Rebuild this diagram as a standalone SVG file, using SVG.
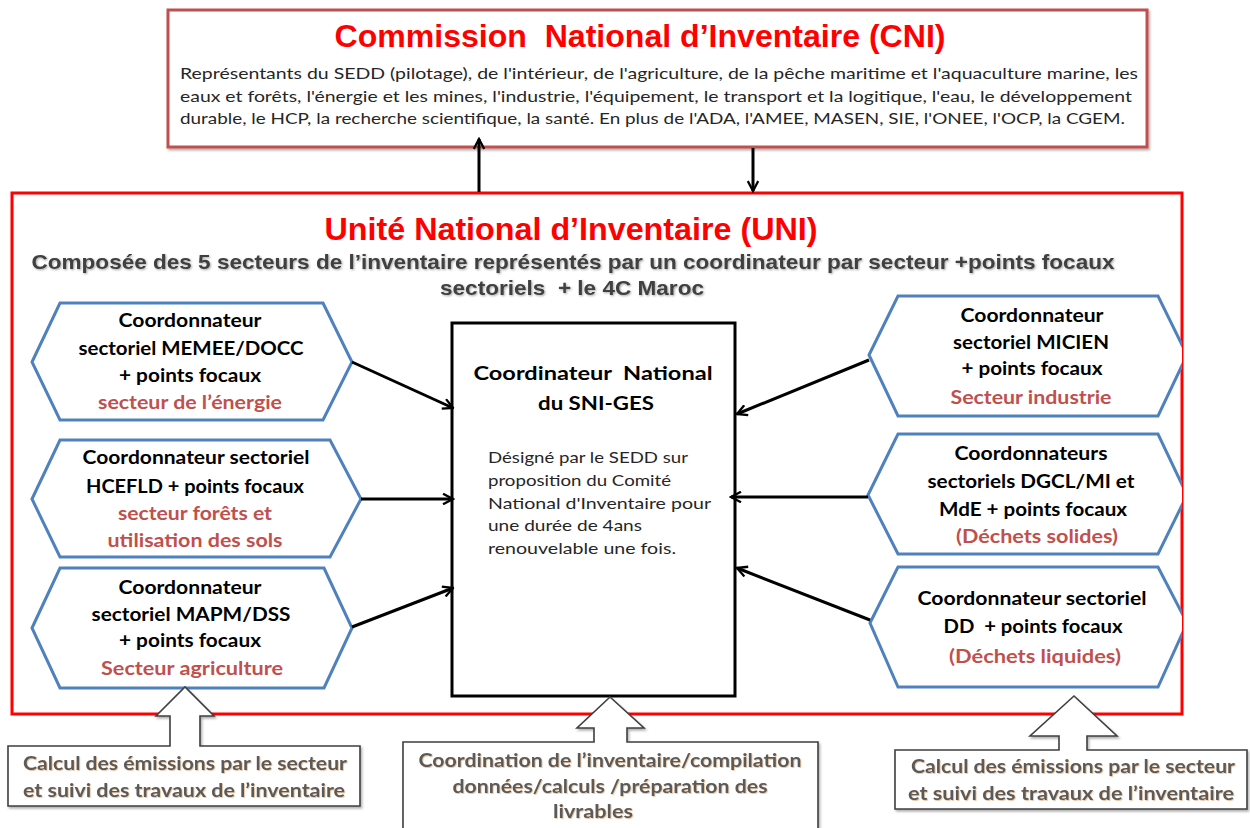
<svg xmlns="http://www.w3.org/2000/svg" width="1250" height="828" viewBox="0 0 1250 828">
  <defs>
    <style>
      text { white-space: pre; }
      .hex { fill: #ffffff; stroke: #4f81bd; stroke-width: 3; }
      .conn { fill: none; stroke: #000000; stroke-width: 3; marker-end: url(#arr); }
      .callout { fill: #ffffff; stroke: #3f3f3f; stroke-width: 1.6; filter: url(#shadow); }
      .ht { font-family: Lato, "Noto Sans", sans-serif; font-weight: 700; font-size: 18px; fill: #000000; text-anchor: middle; }
      .hs { font-family: Lato, "Noto Sans", sans-serif; font-weight: 700; font-size: 18px; fill: #c0504d; text-anchor: middle; }
      .body { font-family: Lato, "Noto Sans", sans-serif; font-size: 16px; fill: #262626; }
      .ct { font-family: Lato, "Noto Sans", sans-serif; font-weight: 700; font-size: 18px; fill: #5a5a5a; text-anchor: middle; filter: url(#glow); }
      .title { font-family: "Liberation Sans", Arial, sans-serif; font-weight: 700; fill: #ff0000; text-anchor: middle; }
      .sub { font-family: "Liberation Sans", Arial, sans-serif; font-weight: 700; font-size: 21px; fill: #404040; text-anchor: middle; filter: url(#tshadow); }
    </style>
    <marker id="arr" viewBox="0 0 12 12" refX="10.5" refY="6" markerWidth="4.2" markerHeight="4.2" orient="auto" markerUnits="strokeWidth">
      <path d="M1,1 L10.5,6 L1,11" fill="none" stroke="#000000" stroke-width="2.2" stroke-linejoin="miter"/>
    </marker>
    <filter id="shadow" x="-5%" y="-5%" width="115%" height="120%">
      <feDropShadow dx="1.5" dy="2" stdDeviation="1.2" flood-color="#000000" flood-opacity="0.3"/>
    </filter>
    <filter id="glow" x="-5%" y="-20%" width="110%" height="140%">
      <feDropShadow dx="0.8" dy="0.8" stdDeviation="0.6" flood-color="#d9a066" flood-opacity="0.7"/>
    </filter>
    <filter id="tshadow" x="-5%" y="-20%" width="110%" height="140%">
      <feDropShadow dx="1" dy="1" stdDeviation="0.8" flood-color="#000000" flood-opacity="0.35"/>
    </filter>
    <clipPath id="uniClip">
      <rect x="0" y="0" width="1182" height="828"/>
    </clipPath>
  </defs>

  <rect width="1250" height="828" fill="#ffffff"/>

  <!-- Commission (top box) -->
  <g id="cni">
    <rect x="168" y="10" width="979" height="137" fill="#ffffff" stroke="#c0504d" stroke-width="3" filter="url(#shadow)"/>
    <text class="title" x="640" y="47" font-size="31" textLength="611" lengthAdjust="spacingAndGlyphs">Commission  National d’Inventaire (CNI)</text>
    <text class="body" x="180" y="79" textLength="958" lengthAdjust="spacingAndGlyphs">Représentants du SEDD (pilotage), de l'intérieur, de l'agriculture, de la pêche maritime et l'aquaculture marine, les</text>
    <text class="body" x="180" y="102" textLength="952" lengthAdjust="spacingAndGlyphs">eaux et forêts, l'énergie et les mines, l'industrie, l'équipement, le transport et la logitique, l'eau, le développement</text>
    <text class="body" x="180" y="124" textLength="945" lengthAdjust="spacingAndGlyphs">durable, le HCP, la recherche scientifique, la santé. En plus de l'ADA, l'AMEE, MASEN, SIE, l'ONEE, l'OCP, la CGEM.</text>
  </g>

  <!-- Inventory unit (large frame) -->
  <g id="uni">
    <rect x="12" y="193" width="1170" height="521" fill="none" stroke="#ff0000" stroke-width="3"/>
    <text class="title" x="571" y="240" font-size="32" textLength="493" lengthAdjust="spacingAndGlyphs">Unité National d’Inventaire (UNI)</text>
    <text class="sub" x="573" y="269" textLength="1083" lengthAdjust="spacingAndGlyphs">Composée des 5 secteurs de l’inventaire représentés par un coordinateur par secteur +points focaux</text>
    <text class="sub" x="572" y="295" textLength="264" lengthAdjust="spacingAndGlyphs">sectoriels  + le 4C Maroc</text>
  </g>

  <!-- National coordinator -->
  <g id="coordinateur-national">
    <rect x="452" y="323" width="283" height="373" fill="#ffffff" stroke="#000000" stroke-width="3"/>
    <text class="ht" x="593" y="380" font-size="20" textLength="239" lengthAdjust="spacingAndGlyphs">Coordinateur  National</text>
    <text class="ht" x="596" y="410" font-size="20" textLength="116" lengthAdjust="spacingAndGlyphs">du SNI-GES</text>
    <text class="body" x="488" y="463" textLength="200" lengthAdjust="spacingAndGlyphs">Désigné par le SEDD sur</text>
    <text class="body" x="488" y="486" textLength="183" lengthAdjust="spacingAndGlyphs">proposition du Comité</text>
    <text class="body" x="488" y="509" textLength="223" lengthAdjust="spacingAndGlyphs">National d'Inventaire pour</text>
    <text class="body" x="488" y="531" textLength="154" lengthAdjust="spacingAndGlyphs">une durée de 4ans</text>
    <text class="body" x="488" y="554" textLength="188" lengthAdjust="spacingAndGlyphs">renouvelable une fois.</text>
  </g>

  <!-- Sector coordinators, left column -->
  <g id="energie">
    <polygon class="hex" points="32,362 60,303 323,303 352,362 323,420 60,420"/>
    <text class="ht" x="190" y="327" textLength="143" lengthAdjust="spacingAndGlyphs">Coordonnateur</text>
    <text class="ht" x="191" y="355" textLength="225" lengthAdjust="spacingAndGlyphs">sectoriel MEMEE/DOCC</text>
    <text class="ht" x="190" y="382" textLength="142" lengthAdjust="spacingAndGlyphs">+ points focaux</text>
    <text class="hs" x="190" y="409" textLength="184" lengthAdjust="spacingAndGlyphs">secteur de l’énergie</text>
  </g>
  <g id="forets">
    <polygon class="hex" points="32,499 60,440 330,440 361,499 330,557 60,557"/>
    <text class="ht" x="196" y="464" textLength="227" lengthAdjust="spacingAndGlyphs">Coordonnateur sectoriel</text>
    <text class="ht" x="195" y="493" textLength="218" lengthAdjust="spacingAndGlyphs">HCEFLD + points focaux</text>
    <text class="hs" x="195" y="520" textLength="154" lengthAdjust="spacingAndGlyphs">secteur forêts et</text>
    <text class="hs" x="195" y="547" textLength="175" lengthAdjust="spacingAndGlyphs">utilisation des sols</text>
  </g>
  <g id="agriculture">
    <polygon class="hex" points="32,628 60,568 324,568 352,628 324,688 60,688"/>
    <text class="ht" x="190" y="594" textLength="143" lengthAdjust="spacingAndGlyphs">Coordonnateur</text>
    <text class="ht" x="191" y="621" textLength="199" lengthAdjust="spacingAndGlyphs">sectoriel MAPM/DSS</text>
    <text class="ht" x="190" y="647" textLength="142" lengthAdjust="spacingAndGlyphs">+ points focaux</text>
    <text class="hs" x="192" y="675" textLength="182" lengthAdjust="spacingAndGlyphs">Secteur agriculture</text>
  </g>

  <!-- Sector coordinators, right column (cut by the unit frame) -->
  <g id="industrie" clip-path="url(#uniClip)">
    <polygon class="hex" points="869,355 898,296 1158,296 1187,355 1158,416 898,416"/>
    <text class="ht" x="1032" y="322" textLength="143" lengthAdjust="spacingAndGlyphs">Coordonnateur</text>
    <text class="ht" x="1031" y="349" textLength="156" lengthAdjust="spacingAndGlyphs">sectoriel MICIEN</text>
    <text class="ht" x="1032" y="375" textLength="141" lengthAdjust="spacingAndGlyphs">+ points focaux</text>
    <text class="hs" x="1031" y="404" textLength="161" lengthAdjust="spacingAndGlyphs">Secteur industrie</text>
  </g>
  <g id="dechets-solides" clip-path="url(#uniClip)">
    <polygon class="hex" points="868,495 898,434 1158,434 1187,495 1158,554 898,554"/>
    <text class="ht" x="1031" y="460" textLength="153" lengthAdjust="spacingAndGlyphs">Coordonnateurs</text>
    <text class="ht" x="1031" y="488" textLength="207" lengthAdjust="spacingAndGlyphs">sectoriels DGCL/MI et</text>
    <text class="ht" x="1033" y="516" textLength="188" lengthAdjust="spacingAndGlyphs">MdE + points focaux</text>
    <text class="hs" x="1037" y="543" textLength="162" lengthAdjust="spacingAndGlyphs">(Déchets solides)</text>
  </g>
  <g id="dechets-liquides" clip-path="url(#uniClip)">
    <polygon class="hex" points="870,623 898,567 1158,567 1187,623 1158,687 898,687"/>
    <text class="ht" x="1032" y="605" textLength="229" lengthAdjust="spacingAndGlyphs">Coordonnateur sectoriel</text>
    <text class="ht" x="1033" y="633" textLength="179" lengthAdjust="spacingAndGlyphs">DD  + points focaux</text>
    <text class="hs" x="1035" y="663" textLength="172" lengthAdjust="spacingAndGlyphs">(Déchets liquides)</text>
  </g>

  <!-- Connectors -->
  <g id="connectors">
    <path class="conn" d="M479,192 V139"/>
    <path class="conn" d="M753,148 V191"/>
    <path class="conn" d="M352,362 L453,408"/>
    <path class="conn" d="M361,499 L453,499"/>
    <path class="conn" d="M352,627 L453,588"/>
    <path class="conn" d="M869,360 L737,414"/>
    <path class="conn" d="M868,497 L731,497"/>
    <path class="conn" d="M870,620 L737,568"/>
  </g>

  <!-- Up-arrow callouts below the unit -->
  <g id="calcul-gauche">
    <path class="callout" d="M8,746 H170 V716 H156 L185,687 L214,716 H200 V746 H360 V806 H8 Z"/>
    <text class="ct" x="185" y="770" textLength="324" lengthAdjust="spacingAndGlyphs">Calcul des émissions par le secteur</text>
    <text class="ct" x="184" y="797" textLength="322" lengthAdjust="spacingAndGlyphs">et suivi des travaux de l’inventaire</text>
  </g>
  <g id="coordination">
    <path class="callout" d="M403,742 H594 V728 H577 L610,697 L644,728 H627 V742 H818 V840 H403 Z"/>
    <text class="ct" x="610" y="767" textLength="383" lengthAdjust="spacingAndGlyphs">Coordination de l’inventaire/compilation</text>
    <text class="ct" x="610" y="793" textLength="315" lengthAdjust="spacingAndGlyphs">données/calculs /préparation des</text>
    <text class="ct" x="593" y="818" textLength="80" lengthAdjust="spacingAndGlyphs">livrables</text>
  </g>
  <g id="calcul-droite">
    <path class="callout" d="M895,750 H1059 V736 H1030 L1074,696 L1117,736 H1087 V750 H1247 V809 H895 Z"/>
    <text class="ct" x="1073" y="773" textLength="324" lengthAdjust="spacingAndGlyphs">Calcul des émissions par le secteur</text>
    <text class="ct" x="1071" y="800" textLength="326" lengthAdjust="spacingAndGlyphs">et suivi des travaux de l’inventaire</text>
  </g>
</svg>
